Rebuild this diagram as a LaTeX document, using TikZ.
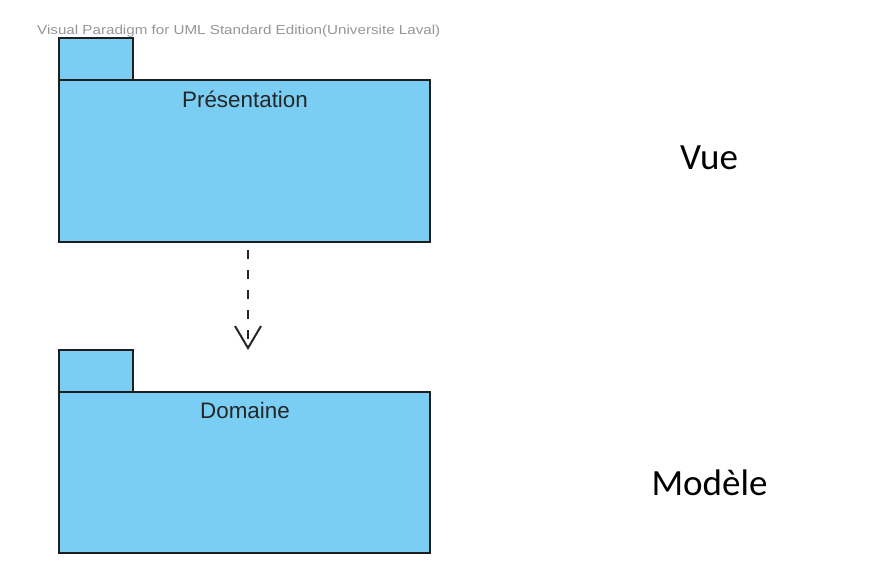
\documentclass[tikz,border=0pt]{standalone}
\usepackage{fontspec}
\setmainfont{Liberation Sans}
\newfontfamily\calib{Carlito}
\usetikzlibrary{arrows.meta}
\definecolor{pkgfill}{RGB}{122,206,244}
\definecolor{pkgline}{RGB}{30,30,30}
\definecolor{wm}{RGB}{150,150,150}
\begin{document}
\begin{tikzpicture}[x=1pt,y=-1pt,
  pkg/.style={draw=pkgline,fill=pkgfill,line width=1.3pt},
  pkglabel/.style={font=\fontsize{22.4}{26}\selectfont,text=black!85,anchor=center,inner sep=0},
  sidelabel/.style={font=\calib\fontsize{37}{44}\selectfont,anchor=center,inner sep=0},
  dep/.style={draw=black!85,line width=1.5pt,dash pattern=on 9pt off 11pt,-{Straight Barb[length=22pt,width=26pt,line width=2pt]}}]
\useasboundingbox (0,0) rectangle (874,574);
% watermark
\node[anchor=west,inner sep=0,text=wm,font=\fontsize{13}{15}\selectfont] (wmk) at (37,31) {\scalebox{1.168}[1]{Visual Paradigm for UML Standard Edition(Universite Laval)}};
% Presentation package
\draw[pkg] (59,38) rectangle (133,80);
\draw[pkg] (59,80) rectangle (430,242);
\coordinate (presB) at (248,242);
\node[pkglabel] (pres) at (245,99) {Présentation};
% Domaine package
\draw[pkg] (59,350) rectangle (133,392);
\draw[pkg] (59,392) rectangle (430,553);
\coordinate (domT) at (248,350);
\node[pkglabel] (dom) at (245,410) {Domaine};
% dependency
\draw[dep] (presB) ++(0,8) coordinate (depS) (depS) -- (domT);
% side labels
\node[sidelabel] (vue) at (709,158) {Vue};
\node[sidelabel] (mod) at (709.5,483) {Modèle};
\end{tikzpicture}
\end{document}
